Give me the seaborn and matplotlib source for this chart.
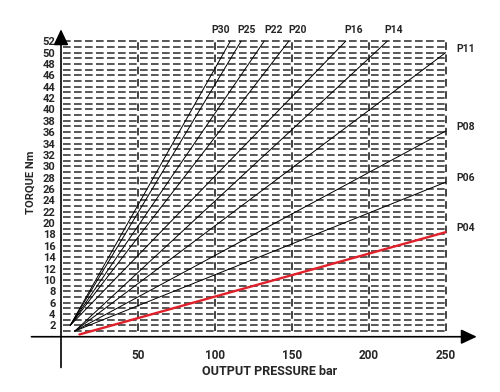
import seaborn as sns
import matplotlib.pyplot as plt
import pandas as pd
import numpy as np

# -----------------------------------------
# Torque vs output pressure, one straight line per model
# -----------------------------------------

models = ["P30", "P25", "P22", "P20", "P16", "P14", "P11", "P08", "P06", "P04"]
start_pressure = [6, 6, 6, 6, 6, 9, 9, 9, 9, 12]
start_torque = [2, 2, 2, 2, 2, 1, 1, 1, 1, 0.4]
end_pressure = [110, 117, 132, 148, 185, 212, 250, 250, 250, 250]
end_torque = [52, 52, 52, 52, 52, 52, 50, 36.2, 27.2, 18.4]

x_ticks = [50, 100, 150, 200, 250]
y_ticks = list(range(2, 53, 2))
grid_levels = list(range(1, 53))

rows = []
for m, p0, t0, p1, t1 in zip(models, start_pressure, start_torque, end_pressure, end_torque):
    rows.append({"model": m, "pressure": p0, "torque": t0})
    rows.append({"model": m, "pressure": p1, "torque": t1})
df = pd.DataFrame(rows)

# -----------------------------------------
# Styling
# -----------------------------------------

sns.set_style("white")
plt.rcParams["font.family"] = ["Roboto", "DejaVu Sans"]
plt.rcParams["font.weight"] = "bold"

fig = plt.figure(figsize=(5, 3.92), dpi=100)
ax = fig.add_axes([0.122, 0.141, 0.834, 0.790])
ax.set_xlim(0, 271)
ax.set_ylim(0, 54.5)

# dashed grid
ax.hlines(grid_levels, 1.5, 250, colors="#2a2a2a", linewidth=1.1,
          linestyles=[(0, (5, 2.2))], zorder=1)
ax.vlines(x_ticks, 1, 52, colors="#111111", linewidth=1.1,
          linestyles=[(0, (5, 3))], zorder=1)

black = df[df["model"] != "P04"]
red = df[df["model"] == "P04"]
sns.lineplot(data=black, x="pressure", y="torque", units="model", estimator=None,
             sort=False, color="black", linewidth=0.7, ax=ax, zorder=3)
sns.lineplot(data=red, x="pressure", y="torque", estimator=None, sort=False,
             color="#e0202a", linewidth=1.7, ax=ax, zorder=4)

# model labels
top_label_x = {"P30": 104, "P25": 120.6, "P22": 137.9, "P20": 153.8, "P16": 190, "P14": 216}
for m, p1, t1 in zip(models, end_pressure, end_torque):
    if m in top_label_x:
        ax.text(top_label_x[m], 54.0, m, ha="center", va="center",
                fontsize=7.5, fontweight="bold", clip_on=False)
    else:
        ax.text(263, t1 + 0.7, m, ha="center", va="center",
                fontsize=7.5, fontweight="bold", clip_on=False)

# axes with arrows
for s in ax.spines.values():
    s.set_visible(False)
head = "-|>,head_length=0.68,head_width=0.32"
ax.annotate("", xy=(272, 0), xytext=(-21, 0), annotation_clip=False,
            arrowprops=dict(arrowstyle=head, lw=1.2, color="black", mutation_scale=14))
ax.annotate("", xy=(0, 54.6), xytext=(0, -5.9), annotation_clip=False,
            arrowprops=dict(arrowstyle=head, lw=1.2, color="black", mutation_scale=14))

ax.set_xticks(x_ticks)
ax.set_yticks(y_ticks)
ax.tick_params(axis="x", length=0, pad=9, labelsize=8.5)
ax.tick_params(axis="y", length=2, width=0.8, pad=2, labelsize=8)
for lbl in ax.get_xticklabels() + ax.get_yticklabels():
    lbl.set_fontweight("bold")

ax.set_xlabel("OUTPUT PRESSURE bar", fontsize=9, fontweight="bold", labelpad=2)
ax.set_ylabel("TORQUE Nm", fontsize=8, fontweight="bold", labelpad=5)

plt.savefig("out.png", dpi=100)
